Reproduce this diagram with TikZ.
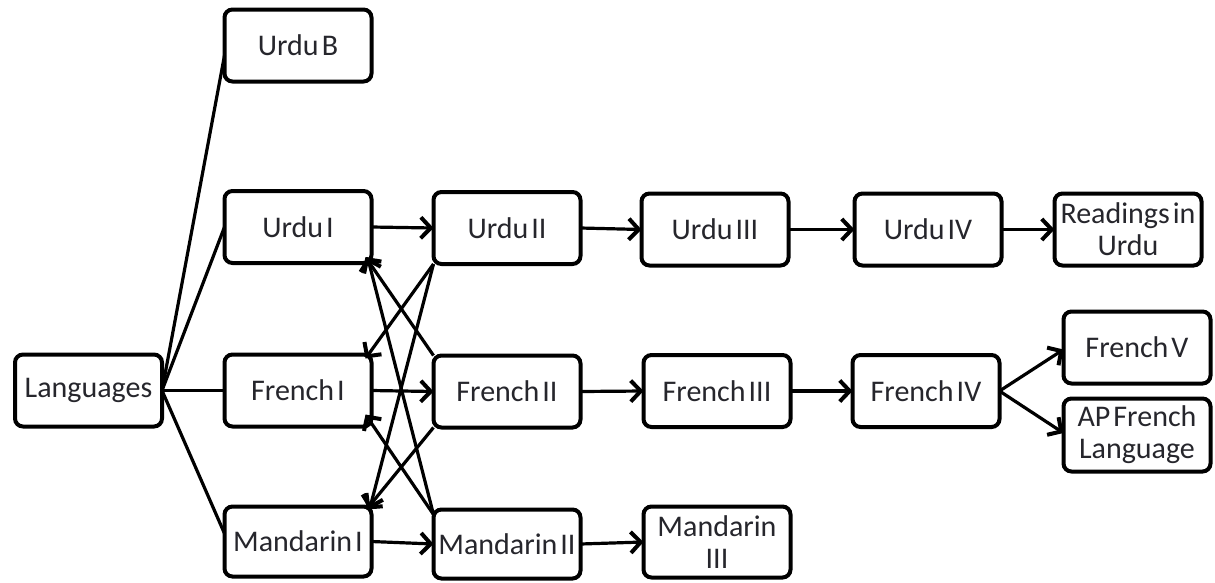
\documentclass[tikz,border=0pt]{standalone}
\usepackage{fontspec}
\setmainfont{Carlito}[WordSpace=0.45]
\usetikzlibrary{arrows.meta,calc}
\definecolor{txt}{HTML}{26262C}
\begin{document}
\begin{tikzpicture}[x=1pt,y=-1pt,
  box/.style={draw=black,line width=4pt,rounded corners=8pt,fill=white,
    minimum width=147pt,minimum height=72pt,inner sep=1pt,outer sep=0pt,
    align=center,text=txt,font=\fontsize{30}{32}\selectfont},
  link/.style={line width=3.2pt,black},
  arr/.style={line width=3.2pt,black,-{Straight Barb[length=10pt,width=21pt,line width=4pt]}}]
\useasboundingbox (0,0) rectangle (1215,582);
\node[box] (Lang) at (88.5,390.5) {Languages};
\node[box] (UrduB) at (298,45.5) {Urdu B};
\node[box] (UrduI) at (298,227) {Urdu I};
\node[box] (FrenchI) at (298,390.5) {French I};
\node[box,minimum height=70pt] (MandarinI) at (298,541.5) {Mandarin I};
\node[box] (UrduII) at (507,228) {Urdu II};
\node[box] (FrenchII) at (507,391.5) {French II};
\node[box,minimum height=69pt] (MandarinII) at (507,544) {Mandarin II};
\node[box] (UrduIII) at (715,229.5) {Urdu III};
\node[box] (FrenchIII) at (717,391) {French III};
\node[box,minimum height=71pt] (MandarinIII) at (717,542) {Mandarin\\III};
\node[box] (UrduIV) at (928,229.5) {Urdu IV};
\node[box] (FrenchIV) at (926,391) {French IV};
\node[box] (Readings) at (1128,229.5) {Readings in\\Urdu};
\node[box] (FrenchV) at (1137,347.5) {French V};
\node[box,minimum height=73pt] (APFrench) at (1137,435) {AP French\\Language};

\draw[link] (Lang.east) -- ($(UrduB.west)+(0,10)$);
\draw[link] (Lang.east) -- (UrduI.west);
\draw[link] (Lang.east) -- (FrenchI.west);
\draw[link] (Lang.east) -- ($(MandarinI.west)+(0,-8)$);

\draw[arr] (UrduI.east) -- (UrduII.west);
\draw[arr] (FrenchI.east) -- (FrenchII.west);
\draw[arr] (MandarinI.east) -- (MandarinII.west);
\draw[arr] (UrduII.east) -- (UrduIII.west);
\draw[arr] (UrduIII.east) -- (UrduIV.west);
\draw[arr] (UrduIV.east) -- (Readings.west);
\draw[arr] (FrenchII.east) -- (FrenchIII.west);
\draw[arr] (FrenchIII.east) -- (FrenchIV.west);
\draw[arr] (MandarinII.east) -- (MandarinIII.west);
\draw[arr] (FrenchIV.east) -- ($(FrenchV.west)+(0,2)$);
\draw[arr] (FrenchIV.east) -- ($(APFrench.west)+(0,-2)$);

\draw[arr] (UrduII.south west) -- ($(FrenchI.north east)+(-6,4)$);
\draw[arr] (UrduII.south west) -- ($(MandarinI.north east)+(-2,3)$);
\draw[arr] (FrenchII.north west) -- ($(UrduI.south east)+(-6,-6)$);
\draw[arr] ($(MandarinII.north west)+(0,5)$) -- ($(UrduI.south east)+(-4,-6)$);
\draw[arr] (FrenchII.south west) -- ($(MandarinI.north east)+(-5,3)$);
\draw[arr] ($(MandarinII.north west)+(0,5)$) -- ($(FrenchI.south east)+(-6,-12)$);
\end{tikzpicture}
\end{document}
